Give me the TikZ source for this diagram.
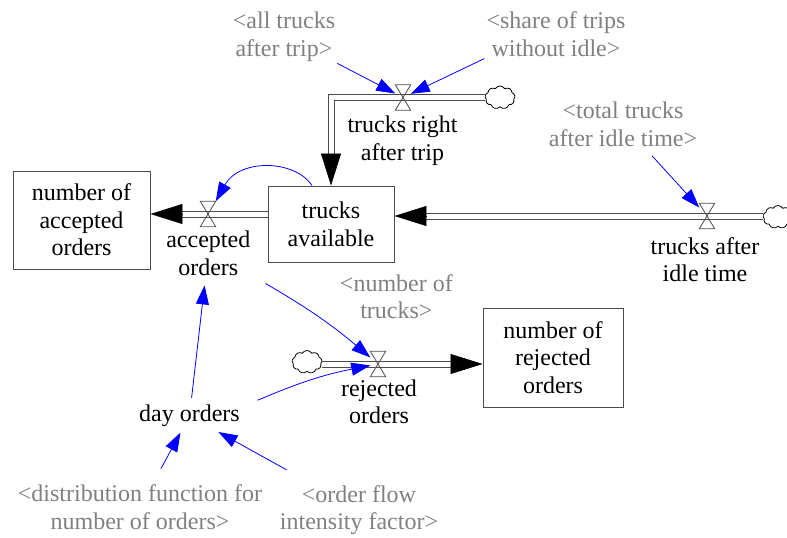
\documentclass[tikz,border=0pt]{standalone}
\usepackage{fontspec}
\setmainfont{Liberation Serif}
\newfontfamily\vensimfont{Liberation Serif}
\usetikzlibrary{arrows.meta,shapes.symbols,calc}

\begin{document}
\begin{tikzpicture}[x=1pt,y=-1pt,
  txt/.style={font=\vensimfont\fontsize{24}{27.6}\selectfont, align=center, inner sep=2pt},
  shadow/.style={txt, text=black!50},
  stock/.style={txt, draw=black!70, line width=0.9pt, inner sep=0pt},
  valve/.style={inner sep=0pt, minimum width=15pt, minimum height=25pt},
  cloudy/.style={cloud, cloud puffs=9, cloud puff arc=120, aspect=1.3, draw=black,
    line width=0.8pt, fill=white, minimum width=30pt, minimum height=23pt, inner sep=0pt},
  pipeouter/.style={draw=black!70, line width=7pt, line join=miter},
  pipeinner/.style={draw=white, line width=5pt, line join=miter},
  pipehead/.style={-{Triangle[length=32pt,width=20pt]}, black, line width=0.5pt},
  link/.style={draw=blue, line width=0.8pt, -{Triangle[length=19pt,width=13pt]}},
]
\path[use as bounding box, clip] (0,0) rectangle (787,538);

% stocks
\node[stock, minimum width=137pt, minimum height=98pt] (accst) at (81.5,220) {number of\\accepted\\orders};
\node[stock, minimum width=126pt, minimum height=76pt] (avail) at (331,224) {trucks\\available};
\node[stock, minimum width=140pt, minimum height=99pt] (rejst) at (553,357.5) {number of\\rejected\\orders};

% valve positions
\node[valve] (vtop) at (403,97.5) {};
\node[valve] (vacc) at (208,214) {};
\node[valve] (vright) at (707,216) {};
\node[valve] (vrej) at (378,364) {};

% sources and sinks
\node[cloudy] (ctop) at (500,97.5) {};
\node[cloudy] (cright) at (778,217) {};
\node[cloudy] (cleft) at (307,362) {};

% ends of the pipes, where the heads begin
\coordinate (htop) at ($(avail.north)+(0,-32)$);
\coordinate (hright) at ($(avail.east |- vright)+(32,0)$);
\coordinate (hacc) at ($(accst.east |- vacc)+(32,0)$);
\coordinate (hrej) at ($(rejst.west |- vrej)+(-32,0)$);

% pipes: a dark band with a white core
\foreach \s in {pipeouter,pipeinner}{
  \draw[\s] (ctop.west) -| (htop);
  \draw[\s] (cright.west |- vright) -- (hright);
  \draw[\s] (avail.west |- vacc) -- (hacc);
  \draw[\s] (cleft.east |- vrej) -- (hrej);
}
\draw[pipehead] (htop) -- (avail.north);
\draw[pipehead] (hright) -- (avail.east |- vright);
\draw[pipehead] (hacc) -- (accst.east |- vacc);
\draw[pipehead] (hrej) -- (rejst.west |- vrej);

% hourglass valves
\foreach \v in {vtop,vacc,vright,vrej}
  \draw[black!70, line width=0.8pt] (\v.north west) -- (\v.north east) -- (\v.south west) -- (\v.south east) -- cycle;

% flow and auxiliary names
\node[txt] (toplbl) at (402.5,141) {trucks right\\after trip};
\node[txt] (acclbl) at (208.3,253) {accepted\\orders};
\node[txt] (rightlbl) at (705,259.6) {trucks after\\idle time};
\node[txt] (rejlbl) at (379,401.6) {rejected\\orders};
\node[txt] (daylbl) at (189.5,416) {day orders};

% shadow variables
\node[shadow] (alltr) at (284,36.5) {<all trucks\\after trip>};
\node[shadow] (share) at (556,34) {<share of trips\\without idle>};
\node[shadow] (total) at (623,124) {<total trucks\\after idle time>};
\node[shadow] (numtr) at (396.4,296.5) {<number of\\trucks>};
\node[shadow] (distr) at (140,507.3) {<distribution function for\\number of orders>};
\node[shadow] (oflow) at (359,510) {<order flow\\intensity factor>};

% causal links
\draw[link] (alltr.south east) -- (vtop);
\draw[link] (share.south west) -- (vtop);
\draw[link, shorten <=10pt] (total) -- (vright);
\draw[link] ([xshift=-19pt]avail.north) .. controls +(-17,-26) and +(24,-43) .. (vacc.north east);
\draw[link] ([xshift=13pt,yshift=-6pt]acclbl.south east) to[bend left=5] (vrej);
\draw[link] ([xshift=15.5pt,yshift=2.6pt]daylbl.north east) to[bend left=6] (vrej);
\draw[link, shorten <=5pt, shorten >=8pt] (daylbl) -- (acclbl);
\draw[link, shorten <=16pt, shorten >=4pt] (distr) -- (daylbl);
\draw[link, shorten <=27pt, shorten >=6pt] (oflow) -- (daylbl);
\end{tikzpicture}
\end{document}
